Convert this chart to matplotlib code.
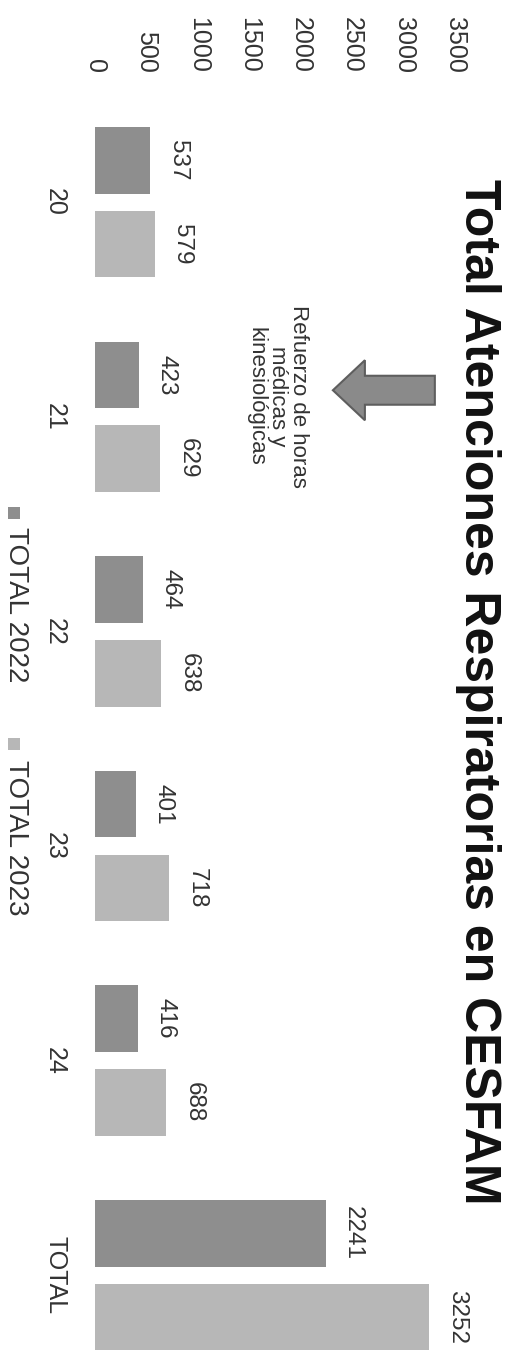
import numpy as np
import matplotlib.pyplot as plt
from matplotlib.patches import FancyArrow, Rectangle

plt.rcParams['font.family'] = ['Liberation Sans', 'DejaVu Sans']

categorias = ["20", "21", "22", "23", "24", "TOTAL"]
total_2022 = [537, 423, 464, 401, 416, 2241]
total_2023 = [579, 629, 638, 718, 688, 3252]
series = ["TOTAL 2022", "TOTAL 2023"]
ticks = [0, 500, 1000, 1500, 2000, 2500, 3000, 3500]

color_2022 = "#8e8e8e"
color_2023 = "#b7b7b7"

W, H = 508, 1353
fig = plt.figure(figsize=(W / 100, H / 100), dpi=100)
ax = fig.add_axes([95 / W, 0, 360 / W, 1 - 95 / H])

idx = np.arange(len(categorias))
alto = 0.31
off = 0.195
b1 = ax.barh(idx - off, total_2022, height=alto, color=color_2022)
b2 = ax.barh(idx + off, total_2023, height=alto, color=color_2023)

for barras, vals in [(b1, total_2022), (b2, total_2023)]:
    for rect, v in zip(barras, vals):
        ax.annotate(str(v), (v, rect.get_y() + rect.get_height() / 2),
                    xytext=(12, 0), textcoords='offset points',
                    rotation=-90, ha='left', va='center', fontsize=17.5,
                    color="#333333")

ax.set_xlim(0, 3500)
ax.set_ylim(5.363, -0.5)
ax.set_xticks(ticks)
ax.set_yticks(idx)
ax.set_yticklabels(categorias)
ax.xaxis.tick_top()
ax.tick_params(axis='x', length=0, pad=16, labelsize=18, rotation=-90,
               colors="#333333")
ax.tick_params(axis='y', length=0, pad=20, labelsize=18, rotation=-90,
               colors="#333333")
for lab in ax.get_yticklabels():
    lab.set_va('center')
for s in ax.spines.values():
    s.set_visible(False)

# flecha y nota
flecha = FancyArrow(3304, 0.876, -991, 0, width=0.135, head_width=0.28,
                    head_length=311, length_includes_head=True,
                    facecolor="#8a8a8a", edgecolor="#5e5e5e", linewidth=1.5)
ax.add_patch(flecha)
ax.text(1770, 0.904, "Refuerzo de horas\nmédicas y\nkinesiológicas",
        rotation=-90, ha='center', va='center', multialignment='center',
        fontsize=16, linespacing=1.0, color="#333333")

# titulo
fig.text(478 / W, 1 - 692 / H, "Total Atenciones Respiratorias en CESFAM",
         rotation=-90, ha='center', va='center', fontsize=36,
         fontweight='bold', color="#111111")

# leyenda
leyenda = [(series[0], color_2022, 507, 527), (series[1], color_2023, 738, 760)]
for nombre, col, ysq, ytx in leyenda:
    fig.add_artist(Rectangle((8 / W, 1 - (ysq + 12) / H), 12 / W, 12 / H,
                             transform=fig.transFigure, facecolor=col,
                             edgecolor='none'))
    fig.text(16 / W, 1 - ytx / H, nombre, rotation=-90, ha='center',
             va='top', fontsize=20, color="#333333")

fig.savefig("out.png", dpi=100, facecolor='white')
